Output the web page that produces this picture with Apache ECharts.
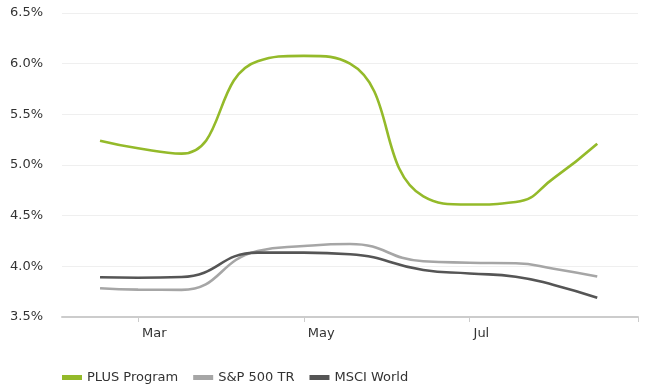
<!DOCTYPE html>
<html>
<head>
<meta charset="utf-8">
<script src="https://cdn.jsdelivr.net/npm/echarts@6/dist/echarts.min.js"></script>
<style>
  html, body { margin: 0; padding: 0; background: #ffffff; }
  #chart { width: 646px; height: 388px; }
</style>
</head>
<body>
<div id="chart"></div>
<script>
// Observation dates
const dates = [
  '2023-02-15', '2023-03-01', '2023-03-17', '2023-04-14', '2023-05-01',
  '2023-05-18', '2023-06-14', '2023-07-01', '2023-07-18', '2023-08-01', '2023-08-17'
];

// Yields in percent
const plusProgram = [5.24, 5.165, 5.112, 6.025, 6.077, 6.0, 4.69, 4.61, 4.635, 4.87, 5.21];
const sp500tr     = [3.783, 3.77, 3.768, 4.152, 4.20, 4.22, 4.05, 4.036, 4.03, 3.977, 3.90];
const msciWorld   = [3.892, 3.888, 3.895, 4.135, 4.135, 4.12, 3.964, 3.93, 3.898, 3.816, 3.69];

const seriesNames = ['PLUS Program', 'S&P 500 TR', 'MSCI World'];

// Axis range, ticks and labels
const xStart = '2023-02-01';
const xEnd = '2023-09-01';
const xTickDates  = ['2023-03-01', '2023-05-01', '2023-07-01', '2023-09-01'];
const xLabelDates = ['2023-03-01', '2023-05-01', '2023-07-01'];
const xLabelTexts = ['Mar', 'May', 'Jul'];
const yTicks = [3.5, 4.0, 4.5, 5.0, 5.5, 6.0, 6.5];

// Dates are placed on a linear day scale counted from the axis start
const DAY = 86400000;
const ts = d => new Date(d + 'T00:00:00Z').getTime();
const dayOf = d => Math.round((ts(d) - ts(xStart)) / DAY);
const pairs = vals => dates.map((d, i) => [dayOf(d), vals[i]]);

const FONT = 'DejaVu Sans, Verdana, sans-serif';
const colors = ['#94ba2a', '#a6a6a6', '#555555'];

const chart = echarts.init(document.getElementById('chart'), null, { renderer: 'canvas' });

const labelMap = {};
xLabelDates.forEach((d, i) => { labelMap[dayOf(d)] = xLabelTexts[i]; });

const mkLine = (name, vals, color) => ({
  name: name,
  type: 'line',
  data: pairs(vals),
  smooth: 0.5,
  showSymbol: false,
  symbol: 'none',
  lineStyle: { color: color, width: 2.6 },
  itemStyle: { color: color }
});

chart.setOption({
  animation: false,
  color: colors,
  grid: { left: 62, right: 8, top: 13, bottom: 71, containLabel: false },
  legend: {
    left: 57,
    top: 366,
    itemWidth: 20,
    itemHeight: 5,
    itemGap: 15,
    icon: 'rect',
    textStyle: { fontFamily: FONT, fontSize: 13, color: '#333333' },
    data: seriesNames
  },
  xAxis: {
    type: 'value',
    min: 0,
    max: dayOf(xEnd),
    axisLine: { show: true, lineStyle: { color: '#cccccc', width: 2 } },
    axisTick: {
      show: true,
      length: 5,
      lineStyle: { color: '#cccccc', width: 1 },
      customValues: xTickDates.map(dayOf)
    },
    axisLabel: {
      customValues: xLabelDates.map(dayOf),
      formatter: v => labelMap[v] || '',
      align: 'left',
      padding: [0, 0, 0, 4],
      margin: 10,
      fontFamily: FONT,
      fontSize: 13,
      color: '#333333'
    },
    splitLine: { show: false }
  },
  yAxis: {
    type: 'value',
    min: yTicks[0],
    max: yTicks[yTicks.length - 1],
    interval: 0.5,
    axisLine: { show: false },
    axisTick: { show: false },
    axisLabel: {
      formatter: v => v.toFixed(1) + '%',
      margin: 19,
      fontFamily: FONT,
      fontSize: 13,
      color: '#333333'
    },
    splitLine: { show: true, lineStyle: { color: '#efefef', width: 1 } }
  },
  series: [
    mkLine(seriesNames[0], plusProgram, colors[0]),
    mkLine(seriesNames[1], sp500tr, colors[1]),
    mkLine(seriesNames[2], msciWorld, colors[2])
  ]
});
</script>
</body>
</html>
